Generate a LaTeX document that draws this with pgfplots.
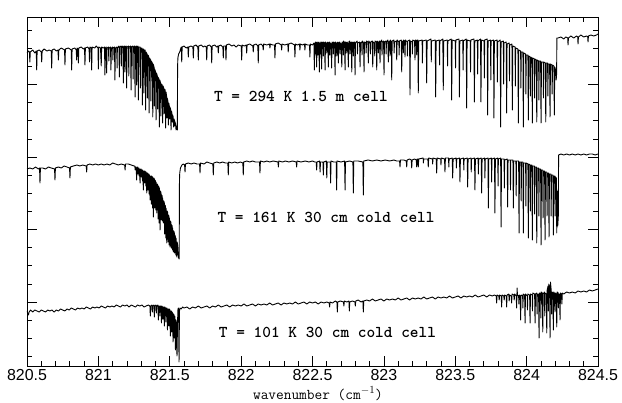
\documentclass[border=0pt]{standalone}
\usepackage{fontspec}
\usepackage{pgfplots}
\pgfplotsset{compat=1.18}
\newfontfamily\hv{Liberation Sans}
\begin{document}
\begin{tikzpicture}
\useasboundingbox (0,0) rectangle (622bp,403bp);
\begin{axis}[
  at={(27bp,37bp)}, anchor=south west,
  scale only axis, width=571bp, height=349bp,
  xmin=820.5, xmax=824.5, ymin=0, ymax=349,
  xtick={820.5,821,821.5,822,822.5,823,823.5,824,824.5},
  xticklabels={820.5,821,821.5,822,822.5,823,823.5,824,824.5},
  minor x tick num=4,
  ytick={64,136.5,209,281.5}, yticklabels={},
  minor ytick={9.6,27.75,45.9,82.1,100.25,118.4,154.6,172.75,190.9,227.1,245.25,263.4,299.6,317.75,335.9},
  tick align=inside, tick pos=both,
  major tick length=10bp, minor tick length=5bp,
  every tick/.style={black, line width=0.7bp},
  axis line style={line width=0.9bp},
  xticklabel style={font=\hv\fontsize{16}{16}\selectfont, yshift=0bp},
  clip=true,
]
% T = 294 K
\addplot[black, line width=0.9bp, line join=round, mark=none] coordinates {
(820.500,313)(820.510,315)(820.517,314)(820.520,304)(820.523,314)(820.540,316)(820.555,313)(820.565,315)(820.568,296)(820.571,315)(820.585,316)(820.600,314)(820.603,304)(820.606,315)(820.620,317)(820.640,315)(820.655,316)(820.670,315)(820.673,298)(820.676,316)(820.690,317)(820.705,315)(820.717,316)(820.720,306)(820.723,316)(820.740,318)(820.763,316)(820.766,301)(820.769,317)(820.790,318)(820.810,316)(820.813,296)(820.816,317)(820.835,318)(820.845,316)(820.848,306)(820.851,318)(820.857,317)(820.860,303)(820.863,318)(820.880,319)(820.895,317)(820.903,318)(820.906,301)(820.909,318)(820.925,319)(820.935,317)(820.938,304)(820.941,319)(820.950,318)(820.953,296)(820.956,319)(820.975,318)(820.985,320)(820.997,318)(821.000,297)(821.003,319)(821.015,318)(821.020,300)(821.023,319)(821.035,318)(821.043,319)(821.046,291)(821.049,318)
(821.055,319)(821.058,293)(821.061,318)(821.071,319)(821.073,305)(821.075,318)
(821.085,319)(821.088,296)(821.091,318)(821.100,319)(821.102,306)(821.104,318)
(821.113,319)(821.116,286)(821.119,318)(821.129,319)(821.131,298)(821.133,318)
(821.144,320)(821.147,289)(821.150,319)(821.159,320)(821.161,300)(821.163,319)
(821.172,320)(821.175,283)(821.178,319)(821.184,320)(821.186,294)(821.188,319)
(821.195,320)(821.198,278)(821.201,319)(821.211,320)(821.213,290)(821.215,319)
(821.226,320)(821.229,276)(821.232,319)(821.241,320)(821.243,287)(821.245,319)
(821.254,320)(821.257,269)(821.260,319)(821.266,320)(821.268,281)(821.270,319)
(821.277,320)(821.280,266)(821.283,319)(821.292,319)(821.294,278)(821.296,318)
(821.305,318)(821.308,261)(821.311,317)(821.317,317)(821.319,273)(821.321,316)
(821.328,316)(821.331,256)(821.334,314)(821.341,312)(821.343,268)(821.345,311)
(821.352,310)(821.355,253)(821.358,308)(821.366,306)(821.368,265)(821.370,305)
(821.378,303)(821.381,249)(821.384,302)(821.390,299)(821.392,260)(821.394,297)
(821.401,294)(821.404,246)(821.407,293)(821.413,290)(821.415,257)(821.417,289)
(821.424,287)(821.427,239)(821.430,286)(821.436,283)(821.438,250)(821.440,282)
(821.447,281)(821.450,243)(821.453,280)(821.458,278)(821.460,252)(821.462,277)
(821.468,276)(821.471,238)(821.474,274)(821.478,270)(821.480,248)(821.482,268)
(821.487,265)(821.490,241)(821.493,263)(821.497,260)(821.499,247)(821.501,259)
(821.506,257)(821.509,236)(821.512,255)(821.516,252)(821.518,244)(821.520,251)
(821.524,249)(821.527,239)(821.530,247)(821.534,245)(821.535,240)(821.537,244)
(821.541,242)(821.544,236)(821.547,240)
(821.550,238)(821.553,236)(821.555,300)(821.557,308)(821.562,312)(821.570,314)(821.578,318)
(821.581,319)(821.584,304)(821.587,319)(821.600,320)(821.615,318)(821.627,319)(821.630,309)(821.633,319)(821.648,320)(821.662,319)(821.665,308)(821.668,320)(821.683,321)(821.697,319)(821.700,306)(821.703,320)(821.720,321)(821.735,319)(821.745,320)(821.756,319)(821.759,306)(821.762,320)(821.778,321)(821.791,319)(821.794,303)(821.797,320)(821.815,321)(821.828,319)(821.837,320)(821.840,313)(821.843,320)(821.858,321)(821.872,319)(821.875,308)(821.878,320)(821.891,320)(821.894,306)(821.897,321)(821.915,322)(821.935,320)(821.950,321)(821.965,319)(821.980,321)(822.001,320)(822.004,306)(822.007,321)(822.022,320)(822.036,321)(822.039,313)(822.042,321)(822.060,322)(822.082,320)(822.085,314)(822.088,321)(822.105,322)(822.117,320)(822.120,303)(822.123,321)(822.140,322)(822.152,320)(822.155,316)(822.158,322)(822.180,321)(822.199,322)(822.202,318)(822.205,322)(822.220,321)(822.234,321)(822.237,308)(822.240,322)(822.260,323)(822.281,321)(822.284,316)(822.287,322)(822.305,321)(822.327,322)(822.330,314)(822.333,322)(822.350,323)(822.374,321)(822.377,309)(822.380,322)(822.395,321)(822.409,322)(822.412,316)(822.415,322)(822.430,321)(822.444,322)(822.447,316)(822.450,322)(822.465,321)(822.479,321)(822.482,309)(822.485,322)(822.500,321)
(822.510,323)(822.513,296)(822.516,323)(822.518,322)(822.520,312)(822.522,324)(822.526,323)(822.529,299)(822.532,324)(822.536,323)(822.538,311)(822.540,323)(822.545,324)(822.548,294)(822.551,323)(822.554,322)(822.556,312)(822.558,324)(822.561,323)(822.564,297)(822.567,324)(822.574,323)(822.576,310)(822.578,324)(822.585,323)(822.588,296)(822.591,324)(822.598,322)(822.600,313)(822.602,323)(822.608,324)(822.611,299)(822.614,323)(822.620,324)(822.622,311)(822.624,323)(822.631,322)(822.634,298)(822.637,324)(822.644,323)(822.646,312)(822.648,324)(822.655,323)(822.658,291)(822.661,324)(822.668,322)(822.670,310)(822.672,323)(822.678,324)(822.681,303)(822.684,323)(822.691,324)(822.693,312)(822.695,323)(822.702,322)(822.705,299)(822.708,324)(822.714,323)(822.716,311)(822.718,325)(822.725,323)(822.728,296)(822.731,324)(822.738,323)(822.740,313)(822.742,324)(822.748,322)(822.751,299)(822.754,324)(822.761,325)(822.763,312)(822.765,323)(822.772,324)(822.775,294)(822.778,323)(822.784,324)(822.786,310)(822.788,323)(822.795,324)(822.798,291)(822.801,323)(822.813,325)(822.815,312)(822.817,323)(822.830,324)(822.833,299)(822.836,323)(822.845,324)(822.847,311)(822.849,325)(822.858,323)(822.861,294)(822.864,324)(822.874,323)(822.876,313)(822.878,325)(822.888,324)(822.891,303)(822.894,325)(822.904,323)(822.906,312)(822.908,324)(822.919,325)(822.922,299)(822.925,324)(822.934,323)(822.936,310)(822.938,325)(822.947,324)(822.950,296)(822.953,325)(822.960,323)(822.962,313)(822.964,324)(822.970,325)(822.973,303)(822.976,324)(822.985,326)(822.987,311)(822.989,324)(822.998,325)(823.001,291)(823.004,324)(823.014,325)(823.016,312)(823.018,324)(823.028,326)(823.031,304)(823.034,324)(823.041,325)(823.043,310)(823.045,326)(823.052,324)(823.055,286)(823.058,325)(823.070,326)(823.072,313)(823.074,324)(823.087,325)(823.090,306)(823.093,326)(823.105,324)(823.107,311)(823.109,325)(823.122,326)(823.125,294)(823.128,325)(823.134,324)(823.136,313)(823.138,326)(823.145,325)(823.148,309)(823.151,326)(823.163,324)(823.165,310)(823.167,325)(823.180,326)(823.183,271)(823.186,325)(823.198,324)(823.200,312)(823.202,326)(823.215,325)(823.218,306)(823.221,326)(823.228,325)(823.230,311)(823.232,326)
(823.238,326)(823.241,273)(823.244,325)(823.268,326)(823.270,303)(823.272,325)(823.297,326)(823.300,283)(823.303,325)(823.330,327)(823.332,304)(823.334,325)(823.360,326)(823.363,269)(823.366,325)(823.388,326)(823.390,301)(823.392,325)(823.413,327)(823.416,276)(823.419,325)(823.444,326)(823.446,300)(823.448,325)(823.472,327)(823.475,266)(823.478,326)(823.500,325)(823.502,298)(823.504,326)(823.526,327)(823.529,269)(823.532,325)(823.553,326)(823.555,296)(823.557,325)(823.577,327)(823.580,258)(823.583,326)(823.605,325)(823.607,294)(823.609,326)(823.631,327)(823.634,264)(823.637,325)(823.655,326)(823.657,292)(823.659,325)(823.677,327)(823.680,264)(823.683,326)(823.702,325)(823.704,288)(823.706,326)(823.724,327)(823.727,251)(823.730,325)(823.747,326)(823.749,286)(823.751,325)(823.768,326)(823.771,248)(823.774,325)(823.793,326)(823.795,284)(823.797,324)(823.815,326)(823.818,239)(823.821,324)(823.837,325)(823.839,282)(823.841,323)(823.857,324)(823.860,253)(823.863,322)(823.878,323)(823.880,285)(823.882,321)(823.897,322)(823.900,256)(823.903,320)(823.919,319)(823.921,280)(823.923,318)(823.939,317)(823.942,243)(823.945,316)(823.958,315)(823.960,278)(823.962,314)(823.974,314)(823.977,239)(823.980,313)(823.993,312)(823.995,272)(823.997,311)(824.009,311)(824.012,246)(824.015,310)(824.024,309)(824.026,270)(824.028,309)(824.037,308)(824.040,243)(824.043,308)(824.054,307)(824.056,268)(824.058,307)(824.068,306)(824.071,244)(824.074,306)(824.084,305)(824.086,266)(824.088,305)(824.098,305)(824.101,243)(824.104,304)(824.116,304)(824.118,268)(824.120,304)(824.131,303)(824.134,244)(824.137,303)(824.147,303)(824.149,270)(824.151,302)(824.161,302)(824.164,249)(824.167,302)(824.177,301)(824.179,272)(824.181,301)(824.191,300)(824.194,251)(824.197,299)(824.203,296)(824.207,286)(824.210,292)(824.212,328)(824.220,328)(824.240,329)(824.260,327)(824.275,329)(824.288,328)(824.290,321)(824.293,328)(824.310,330)(824.330,328)(824.350,330)(824.358,329)(824.360,322)(824.363,329)(824.380,331)(824.400,329)(824.420,330)(824.428,329)(824.430,324)(824.433,330)(824.450,331)(824.470,330)(824.490,331)(824.500,332)
};
% T = 161 K
\addplot[black, line width=0.9bp, line join=round, mark=none] coordinates {
(820.500,197)(820.520,198)(820.540,197)(820.560,199)(820.580,197)(820.588,198)(820.591,183)(820.594,198)(820.610,198)(820.630,197)(820.650,199)(820.670,198)(820.693,197)(820.696,186)(820.699,198)(820.720,199)(820.740,198)(820.760,200)(820.780,199)(820.798,198)(820.801,188)(820.804,199)(820.825,200)(820.850,201)(820.870,200)(820.890,201)(820.915,200)(820.918,194)(820.921,201)(820.940,202)(820.960,201)(820.980,202)(821.000,201)(821.020,202)(821.040,201)(821.060,202)(821.080,201)(821.100,203)(821.120,202)(821.140,201)(821.160,202)(821.184,201)(821.187,196)(821.190,202)(821.210,202)(821.230,201)(821.250,200)
(821.255,200)(821.258,196)(821.261,199)(821.265,199)(821.268,186)(821.271,198)(821.276,199)(821.278,192)(821.280,198)(821.284,198)(821.286,190)(821.288,197)(821.292,183)(821.295,197)(821.299,197)(821.301,189)(821.303,196)(821.307,196)(821.309,185)(821.311,196)(821.315,176)(821.318,195)(821.322,195)(821.324,183)(821.326,195)(821.330,194)(821.332,180)(821.334,194)(821.339,173)(821.342,193)(821.346,193)(821.348,176)(821.350,192)(821.354,192)(821.356,172)(821.358,191)(821.362,166)(821.365,190)(821.369,190)(821.371,162)(821.373,190)(821.377,189)(821.379,158)(821.381,189)(821.385,149)(821.388,188)(821.392,187)(821.394,158)(821.396,186)(821.400,185)(821.402,156)(821.404,184)(821.409,153)(821.412,182)(821.416,181)(821.418,147)(821.420,180)(821.424,179)(821.426,143)(821.428,178)(821.432,136)(821.435,175)(821.439,173)(821.441,146)(821.443,171)(821.447,170)(821.449,145)(821.451,168)(821.455,143)(821.458,165)(821.462,163)(821.464,132)(821.466,161)(821.470,160)(821.472,128)(821.474,158)(821.479,123)(821.482,155)(821.486,153)(821.488,124)(821.490,151)(821.494,150)(821.496,121)(821.498,148)(821.502,119)(821.505,145)(821.509,143)(821.511,118)(821.513,141)(821.517,140)(821.519,116)(821.521,138)(821.525,114)(821.528,135)(821.532,133)(821.534,113)(821.536,131)(821.540,129)(821.542,111)(821.544,128)(821.549,109)(821.552,124)(821.556,120)(821.560,108)(821.563,114)(821.566,107)(821.568,185)(821.570,193)(821.575,198)(821.585,201)
(821.595,202)(821.604,201)(821.607,194)(821.610,202)(821.630,203)(821.650,202)(821.670,203)(821.690,202)(821.709,202)(821.712,193)(821.715,203)(821.740,202)(821.760,204)(821.780,203)(821.802,202)(821.805,191)(821.808,203)(821.830,204)(821.850,203)(821.870,204)(821.890,203)(821.907,203)(821.910,191)(821.913,204)(821.935,203)(821.955,204)(821.975,203)(821.995,204)(822.012,203)(822.015,191)(822.018,204)(822.040,205)(822.060,204)(822.080,205)(822.100,204)(822.129,204)(822.132,193)(822.135,205)(822.160,204)(822.180,205)(822.200,204)(822.225,205)(822.258,204)(822.261,199)(822.264,205)(822.290,204)(822.310,205)(822.335,204)(822.360,205)(822.386,204)(822.389,199)(822.392,205)(822.420,204)(822.450,205)(822.475,204)(822.500,205)(822.515,204)(822.526,204)(822.529,196)(822.532,204)(822.550,205)(822.553,194)(822.556,204)(822.573,204)(822.576,191)(822.579,204)(822.597,205)(822.600,188)(822.603,204)(822.624,204)(822.627,183)(822.630,205)(822.648,204)(822.666,204)(822.669,176)(822.672,205)(822.700,204)(822.725,205)(822.728,176)(822.731,204)(822.760,205)(822.783,204)(822.786,173)(822.789,205)(822.820,205)(822.853,204)(822.856,171)(822.859,205)(822.890,206)(822.920,205)(822.950,206)(822.980,205)(823.010,206)(823.040,205)(823.070,206)(823.090,205)(823.110,205)(823.113,199)(823.116,206)(823.140,206)(823.157,205)(823.160,199)(823.163,206)(823.180,207)(823.192,206)(823.195,198)(823.198,206)(823.215,207)(823.227,206)(823.230,199)(823.233,207)
(823.238,207)(823.241,199)(823.244,207)(823.275,208)(823.277,203)(823.279,207)(823.308,207)(823.311,199)(823.314,208)(823.340,207)(823.342,202)(823.344,208)(823.367,207)(823.370,193)(823.373,208)(823.398,207)(823.400,201)(823.402,208)(823.425,207)(823.428,194)(823.431,208)(823.453,208)(823.455,199)(823.457,207)(823.479,208)(823.482,188)(823.485,207)(823.506,208)(823.508,198)(823.510,207)(823.530,208)(823.533,184)(823.536,207)(823.558,208)(823.560,196)(823.562,207)(823.584,208)(823.587,179)(823.590,207)(823.610,208)(823.612,194)(823.614,207)(823.635,208)(823.638,176)(823.641,207)(823.660,208)(823.662,192)(823.664,207)(823.682,208)(823.685,173)(823.688,207)(823.706,208)(823.708,188)(823.710,207)(823.729,208)(823.732,158)(823.735,207)(823.753,208)(823.755,184)(823.757,207)(823.775,208)(823.778,153)(823.781,207)(823.798,208)(823.800,180)(823.802,207)(823.818,208)(823.821,139)(823.824,207)(823.842,207)(823.844,178)(823.846,206)(823.864,207)(823.867,159)(823.870,206)(823.885,206)(823.887,176)(823.889,206)(823.904,206)(823.907,158)(823.910,205)(823.925,205)(823.927,170)(823.929,205)(823.944,205)(823.947,133)(823.950,204)(823.960,204)(823.962,165)(823.964,204)(823.974,204)(823.977,133)(823.980,203)(823.993,203)(823.995,160)(823.997,203)(824.009,202)(824.012,128)(824.015,202)(824.024,201)(824.026,155)(824.028,201)(824.037,201)(824.040,126)(824.043,200)(824.054,200)(824.056,152)(824.058,199)(824.068,199)(824.071,123)(824.074,198)(824.084,198)(824.086,150)(824.088,197)(824.098,197)(824.101,121)(824.104,196)(824.113,196)(824.115,148)(824.117,195)(824.126,195)(824.129,126)(824.132,194)(824.141,194)(824.143,150)(824.145,193)(824.154,193)(824.157,129)(824.160,192)(824.170,192)(824.172,150)(824.174,191)(824.184,191)(824.187,131)(824.190,190)(824.198,190)(824.200,150)(824.202,189)(824.208,188)(824.211,133)(824.214,175)(824.218,140)(824.222,150)(824.224,211)(824.240,212)(824.260,211)(824.280,212)(824.300,211)(824.320,212)(824.340,211)(824.360,212)(824.380,211)(824.400,212)(824.420,211)(824.440,212)(824.460,212)(824.480,211)(824.500,212)
};
% T = 101 K
\addplot[black, line width=0.9bp, line join=round, mark=none] coordinates {
(820.500,55)(820.505,53)(820.510,51)(820.515,54)(820.525,56)(820.540,54)(820.555,56)(820.570,55)(820.585,54)(820.600,56)(820.615,55)(820.630,54)(820.645,56)(820.660,55)(820.675,56)(820.690,54)(820.705,56)(820.720,55)(820.735,57)(820.750,56)(820.765,55)(820.780,57)(820.795,56)(820.810,58)(820.825,57)(820.840,56)(820.855,58)(820.870,57)(820.885,58)(820.900,57)(820.915,59)(820.930,58)(820.945,57)(820.960,59)(820.975,58)(820.990,59)(821.005,58)(821.020,60)(821.035,59)(821.050,58)(821.065,60)(821.080,59)(821.095,60)(821.110,59)(821.125,61)(821.140,60)(821.155,59)(821.170,61)(821.185,60)(821.200,61)(821.215,59)(821.230,61)(821.245,60)(821.260,59)(821.275,61)(821.290,60)(821.305,61)(821.320,59)(821.335,60)(821.350,61)
(821.361,60)(821.364,50)(821.367,60)(821.375,61)(821.378,54)(821.381,60)(821.389,61)(821.392,49)(821.395,60)(821.403,61)(821.406,53)(821.409,60)(821.417,61)(821.420,46)(821.423,60)(821.428,60)(821.431,50)(821.434,60)(821.439,60)(821.442,43)(821.445,60)(821.449,59)(821.452,47)(821.455,59)(821.459,59)(821.462,40)(821.465,59)(821.470,58)(821.473,44)(821.476,58)(821.481,58)(821.484,36)(821.487,57)(821.492,57)(821.494,40)(821.497,57)(821.501,56)(821.504,30)(821.507,55)(821.511,55)(821.513,34)(821.516,54)(821.520,53)(821.523,24)(821.526,52)(821.530,51)(821.532,28)(821.535,50)(821.537,48)(821.540,16)(821.543,46)(821.546,44)(821.548,20)(821.551,10)(821.554,40)(821.557,56)(821.560,58)(821.562,57)(821.565,4)(821.568,55)(821.572,58)(821.580,57)(821.590,59)
(821.600,58)(821.620,59)(821.640,57)(821.660,59)(821.680,58)(821.700,60)(821.720,58)(821.740,59)(821.760,60)(821.780,58)(821.800,60)(821.820,59)(821.840,61)(821.860,59)(821.880,60)(821.900,61)(821.920,59)(821.940,61)(821.960,60)(821.980,61)(822.000,60)(822.020,62)(822.040,60)(822.060,61)(822.080,62)(822.100,60)(822.120,62)(822.140,61)(822.160,62)(822.180,61)(822.200,63)(822.220,61)(822.240,62)(822.260,63)(822.280,61)(822.300,63)(822.320,62)(822.340,63)(822.360,62)(822.380,64)(822.400,62)(822.420,63)(822.440,64)(822.460,62)(822.480,64)(822.500,63)(822.520,64)(822.540,62)(822.560,64)(822.580,63)(822.600,64)(822.617,63)(822.620,59)(822.623,64)(822.640,63)(822.660,65)(822.671,64)(822.674,54)(822.677,64)(822.695,65)(822.717,64)(822.720,60)(822.723,65)(822.740,64)(822.755,65)(822.758,55)(822.761,64)(822.780,65)(822.797,64)(822.800,60)(822.803,65)(822.820,66)(822.840,64)(822.853,65)(822.856,54)(822.859,65)(822.880,66)(822.900,65)(822.920,67)(822.940,65)(822.960,66)(822.980,67)(823.000,65)(823.020,67)(823.040,66)(823.060,67)(823.080,66)(823.100,68)(823.120,66)(823.140,67)(823.160,68)(823.180,66)(823.200,68)(823.220,67)(823.240,68)(823.260,67)(823.280,69)(823.300,67)(823.320,68)(823.340,69)(823.360,67)(823.380,69)(823.400,68)(823.420,69)(823.440,68)(823.460,70)(823.480,68)(823.500,69)(823.520,70)(823.540,68)(823.560,70)(823.580,69)(823.600,70)(823.620,69)(823.640,71)(823.660,69)(823.680,70)(823.700,71)(823.720,69)(823.740,71)(823.760,70)(823.775,71)
(823.787,70)(823.790,63)(823.793,71)(823.805,70)(823.808,66)(823.811,71)(823.822,70)(823.825,59)(823.828,71)(823.840,70)(823.843,66)(823.846,71)(823.857,70)(823.860,59)(823.863,71)(823.875,72)(823.878,65)(823.881,71)(823.892,70)(823.895,63)(823.898,72)(823.910,71)(823.913,66)(823.916,72)(823.927,70)(823.930,58)(823.933,78)(823.936,71)(823.944,70)(823.946,62)(823.948,71)(823.955,70)(823.958,46)(823.961,71)(823.972,70)(823.974,58)(823.976,72)(823.986,71)(823.989,43)(823.992,72)(824.004,70)(824.006,56)(824.008,72)(824.021,71)(824.024,43)(824.027,72)(824.039,71)(824.041,55)(824.043,73)(824.056,72)(824.059,43)(824.062,72)(824.071,73)(824.073,52)(824.075,72)(824.084,72)(824.087,28)(824.090,73)(824.098,72)(824.100,48)(824.102,74)(824.110,73)(824.113,34)(824.116,72)(824.125,74)(824.127,50)(824.129,73)(824.138,72)(824.141,33)(824.144,76)(824.150,80)(824.152,55)(824.155,82)(824.161,78)(824.164,28)(824.167,84)(824.172,76)(824.175,52)(824.177,74)(824.184,73)(824.187,36)(824.190,74)(824.197,72)(824.199,54)(824.201,73)(824.208,72)(824.211,39)(824.214,74)(824.221,73)(824.223,58)(824.225,72)(824.231,72)(824.234,46)(824.237,73)(824.244,72)(824.247,62)(824.250,73)
(824.260,72)(824.280,74)(824.300,73)(824.320,74)(824.340,73)(824.360,75)(824.380,74)(824.400,75)(824.420,74)(824.440,76)(824.460,75)(824.480,76)(824.500,77)
};
\node[font=\ttfamily\bfseries\fontsize{16.6}{20}\selectfont] at (axis cs:822.419,270) {T = 294 K 1.5 m cell};
\node[font=\ttfamily\bfseries\fontsize{16.6}{20}\selectfont] at (axis cs:822.595,149) {T = 161 K 30 cm cold cell};
\node[font=\ttfamily\bfseries\fontsize{16.6}{20}\selectfont] at (axis cs:822.605,34) {T = 101 K 30 cm cold cell};
\end{axis}
\node[anchor=base, font=\ttfamily\fontsize{15}{18}\selectfont] at (318bp,4bp) {wavenumber (cm$^{-1}$)};
\end{tikzpicture}
\end{document}
